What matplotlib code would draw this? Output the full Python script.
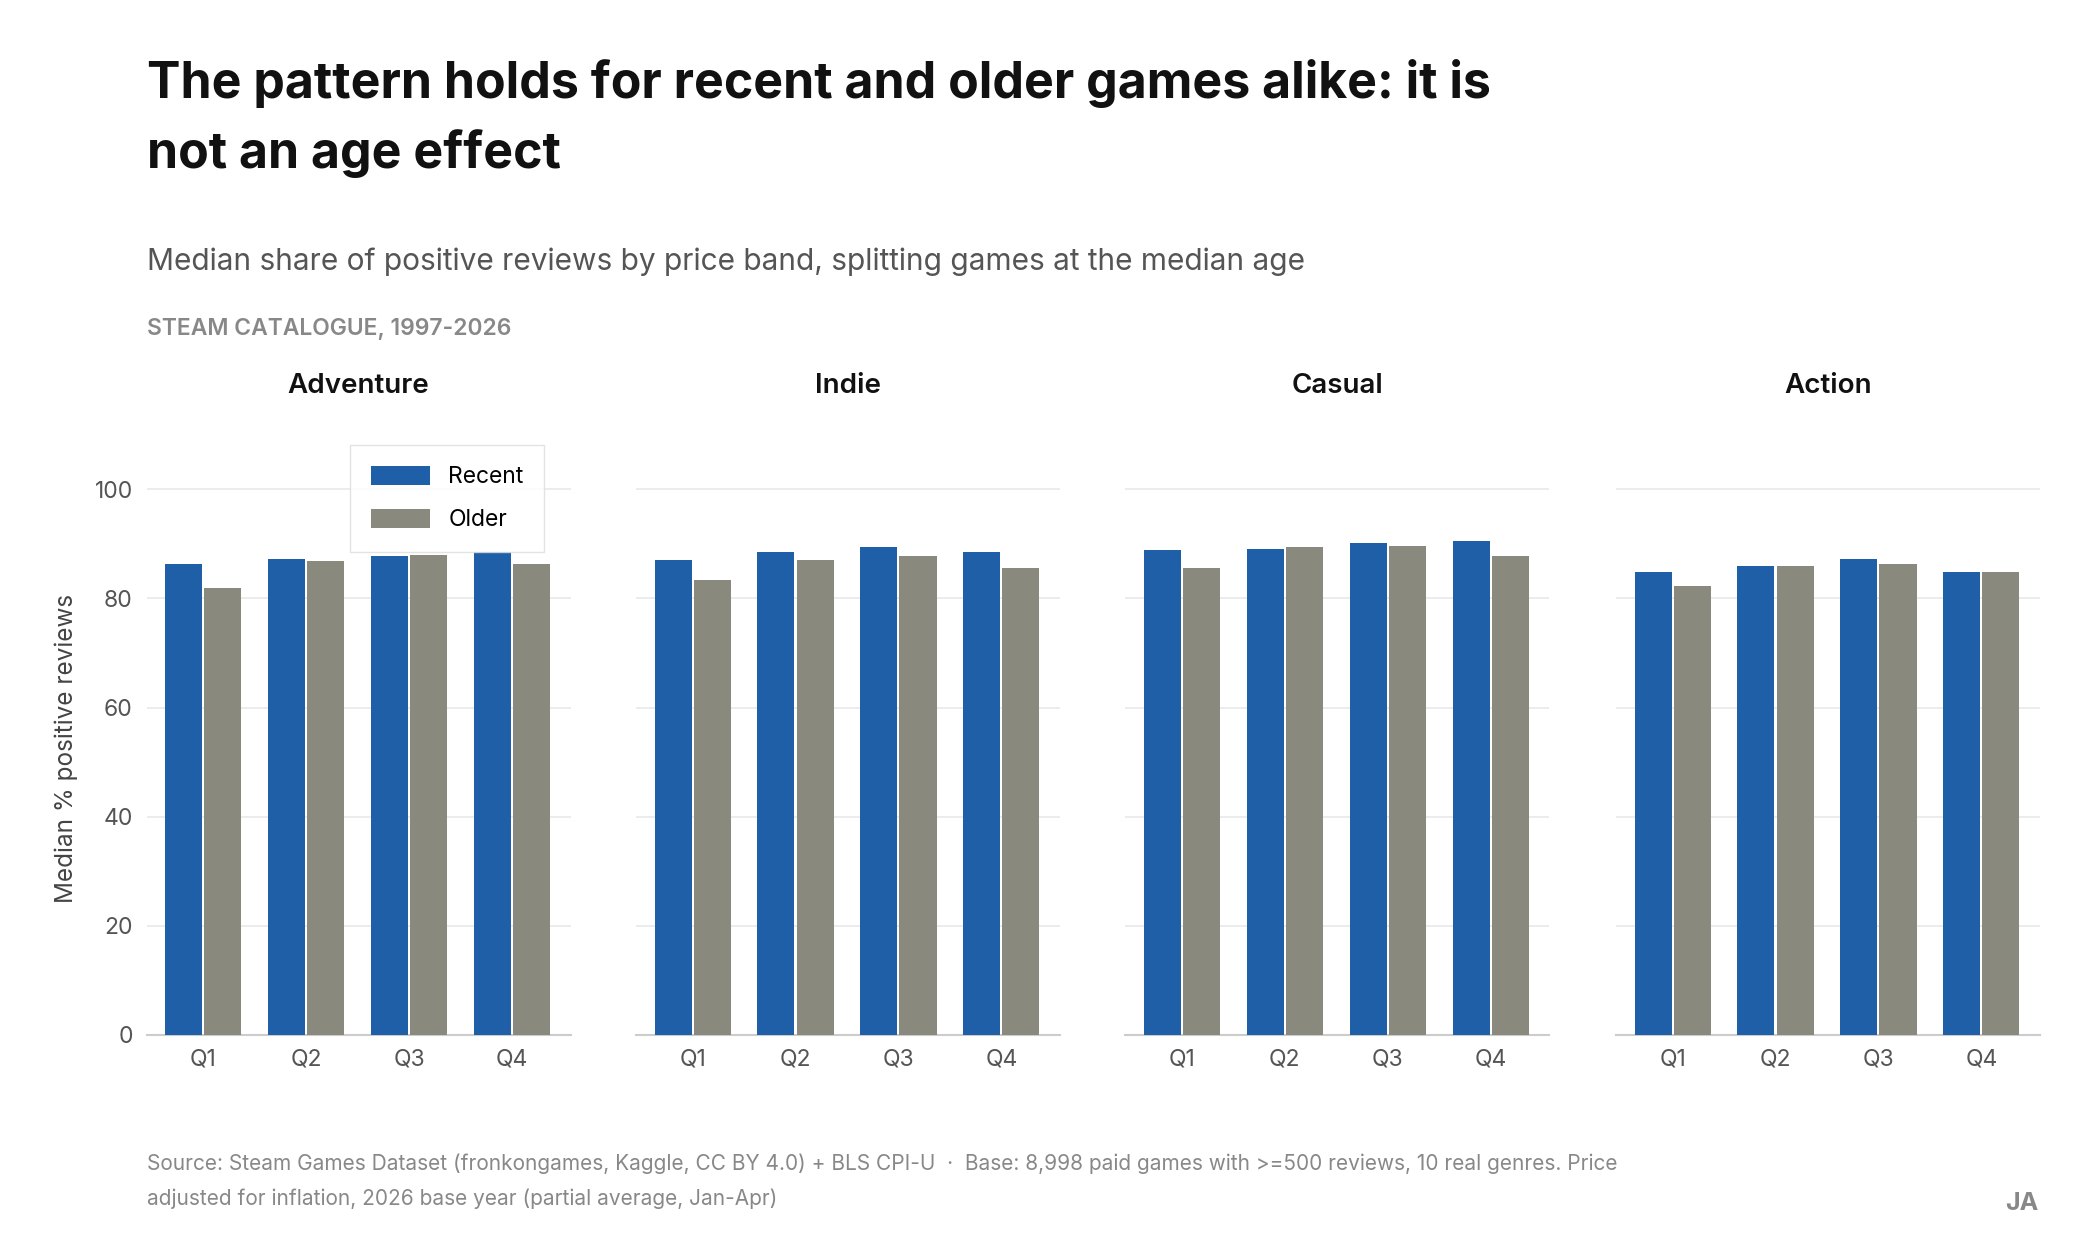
import matplotlib.pyplot as plt
import numpy as np

plt.rcParams['font.family'] = ['Inter', 'DejaVu Sans']

genres = ["Adventure", "Indie", "Casual", "Action"]
bands = ["Q1", "Q2", "Q3", "Q4"]
recent = {
    "Adventure": [86.3, 87.3, 87.8, 88.5],
    "Indie": [87.0, 88.5, 89.5, 88.5],
    "Casual": [88.8, 89.0, 90.2, 90.5],
    "Action": [84.8, 86.0, 87.3, 84.8],
}
older = {
    "Adventure": [81.9, 86.8, 88.0, 86.3],
    "Indie": [83.4, 87.0, 87.8, 85.6],
    "Casual": [85.6, 89.5, 89.7, 87.8],
    "Action": [82.2, 86.0, 86.3, 84.8],
}

BLUE = "#1f5fa8"
GREY = "#8a897d"

fig = plt.figure(figsize=(20.8, 12.4), dpi=100)
lefts = [110, 477, 844, 1212]
x = np.arange(len(bands))
w = 0.36
for i, g in enumerate(genres):
    ax = fig.add_axes([lefts[i] / 1560, 1 - 776 / 930, 318 / 1560, (776 - 346.6) / 930])
    ax.bar(x - 0.19, recent[g], w, color=BLUE, label="Recent", zorder=3)
    ax.bar(x + 0.19, older[g], w, color=GREY, label="Older", zorder=3)
    ax.set_xlim(-0.55, 3.57)
    ax.set_ylim(0, 105)
    ax.set_yticks([0, 20, 40, 60, 80, 100])
    ax.grid(axis="y", color="#ebebeb", lw=1.3, zorder=0)
    ax.set_xticks(x)
    ax.set_xticklabels(bands)
    for s in ["top", "right", "left"]:
        ax.spines[s].set_visible(False)
    ax.spines["bottom"].set_color("#cccccc")
    ax.spines["bottom"].set_linewidth(1.5)
    ax.tick_params(length=0, labelsize=16.5, colors="#555555", pad=10)
    ax.set_title(g, fontsize=20, fontweight="semibold", color="#111111", pad=50)
    if i == 0:
        ax.set_ylabel("Median % positive reviews", fontsize=17.5, color="#444444", labelpad=12)
        ax.legend(loc="upper right", bbox_to_anchor=(0.965, 1.05), fontsize=16.5,
                  frameon=True, fancybox=False, edgecolor="#dddddd",
                  handlelength=2.6, handleheight=0.9, borderpad=0.9, labelspacing=0.9)
    else:
        ax.set_yticklabels([])

fig.text(110 / 1560, 1 - 89 / 930, "The pattern holds for recent and older games alike: it is\nnot an age effect",
         fontsize=36, fontweight="bold", color="#111111", va="center", linespacing=1.55)
fig.text(110 / 1560, 1 - 196 / 930, "Median share of positive reviews by price band, splitting games at the median age",
         fontsize=21.5, color="#555555", va="center")
fig.text(110 / 1560, 1 - 247 / 930, "STEAM CATALOGUE, 1997-2026", fontsize=16.5, fontweight="semibold",
         color="#888888", va="center")
fig.text(110 / 1560, 1 - 886 / 930,
         "Source: Steam Games Dataset (fronkongames, Kaggle, CC BY 4.0) + BLS CPI-U  ·  Base: 8,998 paid games with >=500 reviews, 10 real genres. Price\nadjusted for inflation, 2026 base year (partial average, Jan-Apr)",
         fontsize=15, color="#888888", va="center", linespacing=1.9)
fig.text(1529 / 1560, 1 - 903 / 930, "JA", fontsize=18, fontweight="bold", color="#888888", ha="right", va="center")

fig.savefig("out.png", dpi=100, facecolor="white")
